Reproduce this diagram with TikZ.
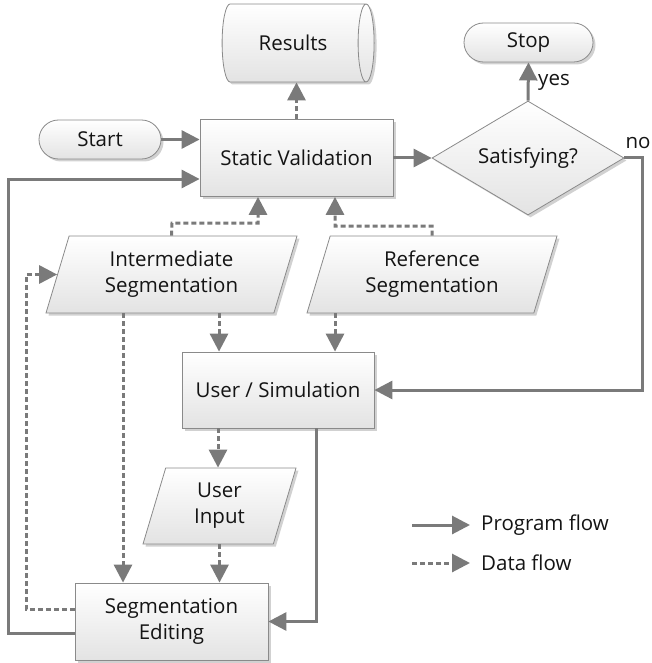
\documentclass[tikz,border=0pt]{standalone}
\usepackage{fontspec}
\setmainfont{Open Sans}
\usetikzlibrary{shapes.geometric,shapes.misc,arrows.meta,shadows,calc}

\definecolor{flow}{HTML}{7A7A7A}
\definecolor{rim}{HTML}{8A8A8A}
\definecolor{ink}{HTML}{141414}

\tikzset{
  base/.style={draw=rim, line width=0.8pt, top color=white, bottom color=black!11,
    text=ink, font=\fontsize{20.5}{26}\selectfont, align=center, inner sep=1pt,
    drop shadow={shadow xshift=2.5pt, shadow yshift=-2.5pt, opacity=0.18, fill=black}},
  procbox/.style={base, rectangle, minimum width=#1, minimum height=77pt},
  terminal/.style={base, rounded rectangle, minimum width=#1, minimum height=39pt},
  iobox/.style={base, trapezium, trapezium left angle=64.5, trapezium right angle=115.5,
    trapezium stretches body, minimum width=#1, minimum height=77pt},
  decision/.style={base, diamond, minimum width=192pt, minimum height=114pt, shape aspect=1.7},
  store/.style={base, cylinder, shape aspect=0.9, minimum height=152pt, minimum width=78pt},
  prog/.style={draw=flow, line width=3pt, -{Triangle[length=18pt,width=18pt]}},
  data/.style={prog, dash pattern=on 5pt off 3pt},
  lbl/.style={text=ink, font=\fontsize{20.5}{26}\selectfont, inner sep=0pt}
}

\begin{document}
\begin{tikzpicture}[x=1pt,y=-1pt]
\useasboundingbox (0,0) rectangle (651,663);

% shapes
\node[store] (res) at (293,43) {Results};
\node[terminal=124pt] (start) at (100,139.5) {Start};
\node[terminal=131pt] (stop) at (528.5,42.5) {Stop};
\node[procbox=193pt] (sv) at (296.5,158) {Static Validation};
\node[decision] (sat) at (528,158) {Satisfying?};
\node[iobox=251pt] (is) at (171.5,274.5) {Intermediate\\Segmentation};
\node[iobox=250pt] (rs) at (432,274.5) {Reference\\Segmentation};
\node[procbox=192pt, minimum height=76pt] (us) at (278,390) {User / Simulation};
\node[iobox=153pt, minimum height=76pt] (ui) at (219.5,506) {User\\Input};
\node[procbox=193pt] (se) at (171.5,621.5) {Segmentation\\Editing};

% attachment points on the node borders
\coordinate (isR) at ($(is.south)+(47.5,0)$);
\coordinate (isL) at ($(is.south)+(-48.5,0)$);
\coordinate (rsB) at ($(rs.south)+(-97,0)$);
\coordinate (usB) at ($(us.south)+(-60,0)$);
\coordinate (usR) at ($(us.south)+(38,0)$);
\coordinate (svL) at ($(sv.south)+(-38.5,0)$);
\coordinate (svR) at ($(sv.south)+(38.5,0)$);
\coordinate (svW) at ($(sv.west)+(0,21)$);
\coordinate (seA) at ($(se.west)+(0,11.5)$);
\coordinate (seB) at ($(se.west)+(0,-12.5)$);

% program flow
\draw[prog] (start.east) -- (start.east -| sv.west);
\draw[prog] (sv.east) -- (sat.west);
\draw[prog] (sat.north) -- (stop.south);
\draw[prog] (sat.east) -- (642,158) |- (us.east);
\draw[prog] (usR) |- (se.east);
\draw[prog] (seA) -- (8,633) |- (svW);

% data flow
\draw[data] (sv.north) -- (sv.north |- res.south);
\draw[data] (is.north) -- (172,223) -| (svL);
\draw[data] (rs.north) -- (432,226) -| (svR);
\draw[data] (isR) -- (isR |- us.north);
\draw[data] (isL) -- (isL |- se.north);
\draw[data] (rsB) -- (rsB |- us.north);
\draw[data] (usB) -- (usB |- ui.north);
\draw[data] (ui.south) -- (ui.south |- se.north);
\draw[data] (seB) -- (26,609) |- (is.left side);

% branch labels
\node[lbl, anchor=west] (yes) at (538,82) {yes};
\node[lbl] (no) at (638,143) {no};

% legend
\coordinate (pa) at (412,525);
\coordinate (pb) at (470,525);
\coordinate (da) at (412,563);
\coordinate (db) at (470,563);
\draw[prog] (pa) -- (pb);
\draw[data] (da) -- (db);
\node[lbl, anchor=west] (ptext) at (481,525) {Program flow};
\node[lbl, anchor=west] (dtext) at (481,563) {Data flow};
\end{tikzpicture}
\end{document}
